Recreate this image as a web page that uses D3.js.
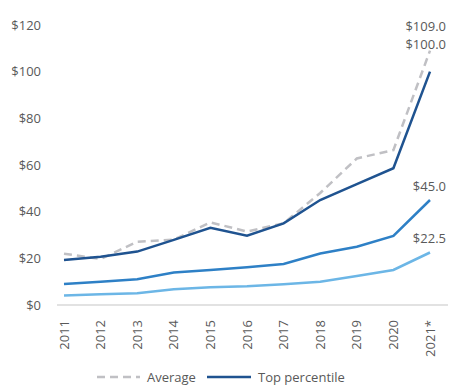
<!DOCTYPE html>
<html>
<head>
<meta charset="utf-8">
<script src="https://cdn.jsdelivr.net/npm/d3@7"></script>
<style>
  body { margin: 0; background: #fff; }
  text { font-family: "Open Sans", "Liberation Sans", sans-serif; fill: #595959; }
</style>
</head>
<body>
<svg id="chart" width="466" height="388"></svg>
<script>
const years = ['2011', '2012', '2013', '2014', '2015', '2016', '2017', '2018', '2019', '2020', '2021*'];
const average = [22, 19.7, 27.1, 28, 35.4, 31.5, 35, 48, 62.8, 66.4, 109];
const topPercentile = [19.3, 20.7, 22.9, 27.9, 33.1, 29.7, 35, 45, 51.8, 58.6, 100];
const midSeries = [9, 10, 11, 13.9, 15, 16.2, 17.6, 22.1, 25, 29.6, 45];
const lowSeries = [4.1, 4.6, 5, 6.7, 7.6, 8, 8.9, 10, 12.4, 15, 22.5];
const yTicks = [0, 20, 40, 60, 80, 100, 120];

const series = [
  { name: 'low', values: lowSeries, color: '#6cb6e6', dash: null },
  { name: 'mid', values: midSeries, color: '#2e80c6', dash: null },
  { name: 'Average', values: average, color: '#c0c0c4', dash: '8,5' },
  { name: 'Top percentile', values: topPercentile, color: '#1f5390', dash: null }
];

const svg = d3.select('#chart');

const x = d3.scalePoint()
  .domain(years)
  .range([64, 430]);

const y = d3.scaleLinear()
  .domain([0, 120])
  .range([305, 25]);

// y axis labels, no lines
svg.append('g')
  .selectAll('text')
  .data(yTicks)
  .join('text')
  .attr('x', 41)
  .attr('y', d => y(d))
  .attr('dy', '0.35em')
  .attr('text-anchor', 'end')
  .style('font-size', '13px')
  .text(d => '$' + d);

// baseline
svg.append('line')
  .attr('x1', 57).attr('x2', 448)
  .attr('y1', y(0)).attr('y2', y(0))
  .attr('stroke', '#d9d9d9')
  .attr('stroke-width', 1.5);

// x labels rotated
svg.append('g')
  .selectAll('text')
  .data(years)
  .join('text')
  .attr('transform', d => `translate(${x(d)},320) rotate(-90)`)
  .attr('dy', '0.35em')
  .attr('text-anchor', 'end')
  .style('font-size', '13px')
  .text(d => d);

const line = d3.line()
  .x((d, i) => x(years[i]))
  .y(d => y(d));

svg.append('g')
  .selectAll('path')
  .data(series)
  .join('path')
  .attr('d', d => line(d.values))
  .attr('fill', 'none')
  .attr('stroke', d => d.color)
  .attr('stroke-width', 2.5)
  .attr('stroke-dasharray', d => d.dash);

// end labels
const last = years.length - 1;
const endLabels = [
  { v: average[last], yPos: y(average[last]) - 24 },
  { v: topPercentile[last], yPos: y(topPercentile[last]) - 27 },
  { v: midSeries[last], yPos: y(midSeries[last]) - 14 },
  { v: lowSeries[last], yPos: y(lowSeries[last]) - 14 }
];
svg.append('g')
  .selectAll('text')
  .data(endLabels)
  .join('text')
  .attr('x', 446)
  .attr('y', d => d.yPos)
  .attr('dy', '0.35em')
  .attr('text-anchor', 'end')
  .style('font-size', '13px')
  .text(d => '$' + d.v.toFixed(1));

// legend
const legend = svg.append('g');
const legendItems = [
  { label: 'Average', color: '#c0c0c4', dash: '8,5', x0: 97, x1: 140 },
  { label: 'Top percentile', color: '#1f5390', dash: null, x0: 207, x1: 251 }
];
legendItems.forEach(d => {
  legend.append('line')
    .attr('x1', d.x0).attr('x2', d.x1)
    .attr('y1', 377).attr('y2', 377)
    .attr('stroke', d.color)
    .attr('stroke-width', 2.5)
    .attr('stroke-dasharray', d.dash);
  legend.append('text')
    .attr('x', d.x1 + 7)
    .attr('y', 377)
    .attr('dy', '0.35em')
    .style('font-size', '13px')
    .text(d.label);
});
</script>
</body>
</html>
